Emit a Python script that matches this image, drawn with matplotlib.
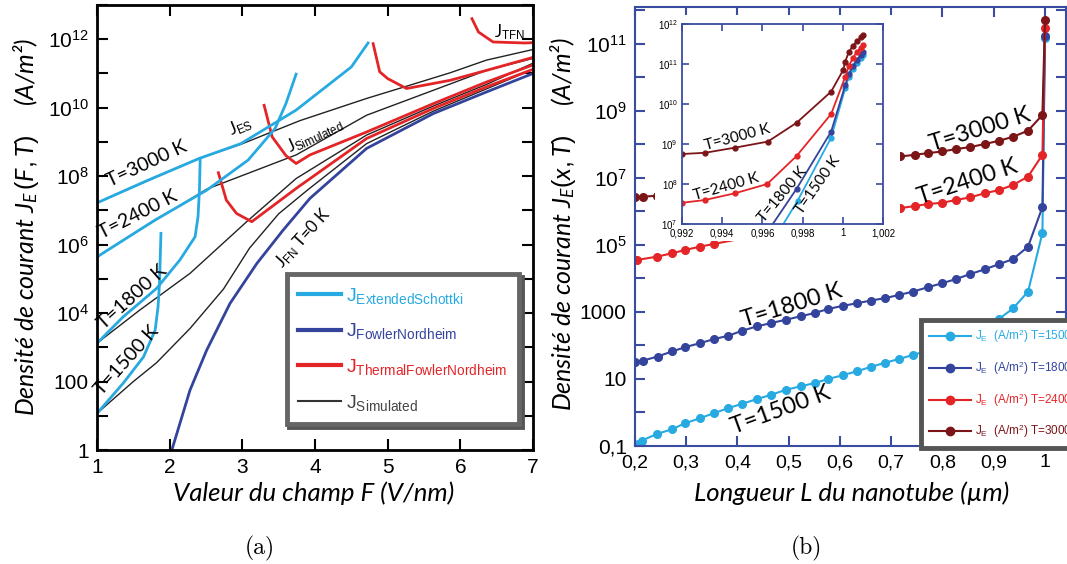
import matplotlib
matplotlib.use('Agg')
import matplotlib.pyplot as plt
from matplotlib.ticker import FixedLocator, FixedFormatter, NullLocator
from matplotlib.lines import Line2D
from matplotlib.patches import Rectangle
import numpy as np

plt.rcParams['font.family'] = ['Liberation Sans', 'DejaVu Sans']
plt.rcParams['mathtext.fontset'] = 'custom'
plt.rcParams['mathtext.rm'] = 'Liberation Sans'
plt.rcParams['mathtext.it'] = 'Lato:italic'
plt.rcParams['mathtext.bf'] = 'Liberation Sans:bold'

LBLUE = '#27aae1'
DBLUE = '#34449c'
RED = '#e42528'
DRED = '#7b1518'
AXBLUE = '#3a4ca0'

# ---------------- (a) J(F) : log10 of current density vs field (V/nm)
F_es3000 = [1, 1.70, 2.41, 2.98, 3.74, 4.50, 4.73]
lJ_es3000 = [7.22, 7.88, 8.52, 8.95, 9.93, 11.19, 11.89]
F_es2400 = [1, 1.80, 2.51, 3.08, 3.45, 3.60, 3.74]
lJ_es2400 = [5.64, 6.72, 7.59, 8.47, 9.39, 10.12, 10.98]
F_es1800 = [1, 1.36, 1.82, 2.14, 2.35, 2.39, 2.41, 2.42]
lJ_es1800 = [3.12, 3.89, 4.72, 5.55, 6.23, 6.81, 7.6, 8.52]
F_es1500 = [1, 1.36, 1.64, 1.80, 1.84, 1.86, 1.88]
lJ_es1500 = [1.07, 1.95, 2.72, 3.50, 4.18, 4.87, 6.33]

F_sim3000 = [1, 2.41, 2.98, 3.79, 4.71, 5.31, 5.86, 6.36, 7.0]
lJ_sim3000 = [7.22, 8.52, 8.93, 9.62, 10.27, 10.66, 11.02, 11.39, 11.70]
F_sim2400 = [1, 1.51, 2.51, 3.74, 4.71, 5.63, 6.36, 7.0]
lJ_sim2400 = [5.64, 6.33, 7.62, 8.62, 9.78, 10.51, 11.09, 11.44]
F_sim1800 = [1, 1.59, 2.28, 3.06, 3.74, 4.71, 5.63, 6.36, 7.0]
lJ_sim1800 = [3.12, 4.09, 5.16, 6.67, 7.93, 9.2, 10.05, 10.68, 11.3]
F_sim1500 = [1, 1.5, 1.82, 2.28, 2.74, 3.1, 3.5, 3.9, 4.71, 5.63, 6.36, 7.0]
lJ_sim1500 = [1.07, 2.0, 2.55, 3.55, 4.7, 5.9, 6.9, 7.6, 8.95, 9.9, 10.55, 11.12]

F_tfn3000 = [6.16, 6.25, 6.45, 6.89, 7.0]
lJ_tfn3000 = [12.6, 12.21, 11.92, 11.89, 11.9]
F_tfn2400 = [4.80, 4.89, 5.0, 5.26, 5.86, 6.36, 7.0]
lJ_tfn2400 = [11.87, 11.05, 10.85, 10.56, 10.80, 11.09, 11.47]
F_tfn1800 = [3.30, 3.41, 3.60, 3.74, 3.93, 4.71, 5.63, 6.36, 7.0]
lJ_tfn1800 = [10.07, 9.15, 8.6, 8.37, 8.62, 9.29, 10.12, 10.75, 11.25]
F_tfn1500 = [2.67, 2.78, 2.92, 3.13, 3.74, 4.71, 5.63, 6.36, 7.0]
lJ_tfn1500 = [8.10, 7.30, 6.91, 6.67, 7.64, 9.10, 9.98, 10.61, 11.12]

F_fn = [2.03, 2.28, 2.51, 2.83, 3.20, 3.56, 3.93, 4.71, 5.63, 6.36, 7.0]
lJ_fn = [0.0, 1.75, 2.92, 4.28, 5.45, 6.42, 7.35, 8.81, 9.83, 10.46, 11.0]

A_XTICKS = [1, 2, 3, 4, 5, 6, 7]
A_YTICK_EXP = list(range(0, 14))
A_YTICK_LABELS = ['1', '', '100', '', r'$10^{4}$', '', r'$10^{6}$', '', r'$10^{8}$', '',
                  r'$10^{10}$', '', r'$10^{12}$', '']
A_LEGEND = [r'J$_{\mathrm{ExtendedSchottki}}$', r'J$_{\mathrm{FowlerNordheim}}$',
            r'J$_{\mathrm{ThermalFowlerNordheim}}$', r'J$_{\mathrm{Simulated}}$']

# ---------------- (b) J(L) along the nanotube (um)
L_1500 = [0.205, 0.213, 0.243, 0.272, 0.298, 0.327, 0.354, 0.382, 0.409, 0.438, 0.466, 0.495,
          0.523, 0.551, 0.577, 0.605, 0.633, 0.660, 0.687, 0.716, 0.743, 0.772, 0.800, 0.826,
          0.854, 0.882, 0.911, 0.938, 0.967, 0.995, 1.0]
lJ_1500 = [-0.93, -0.84, -0.64, -0.50, -0.32, -0.17, -0.02, 0.13, 0.26, 0.40, 0.53, 0.68,
           0.78, 0.88, 1.00, 1.11, 1.23, 1.36, 1.48, 1.60, 1.72, 1.85, 1.98, 2.12,
           2.30, 2.52, 2.80, 3.11, 3.61, 5.36, 11.17]
L_1800 = [0.2, 0.216, 0.244, 0.272, 0.298, 0.327, 0.354, 0.382, 0.409, 0.438, 0.466, 0.495,
          0.523, 0.551, 0.577, 0.605, 0.633, 0.660, 0.687, 0.716, 0.743, 0.772, 0.800, 0.826,
          0.854, 0.882, 0.911, 0.938, 0.967, 0.995, 1.0]
lJ_1800 = [1.50, 1.55, 1.67, 1.82, 1.95, 2.07, 2.19, 2.29, 2.44, 2.57, 2.67, 2.77,
           2.87, 2.97, 3.09, 3.18, 3.26, 3.34, 3.41, 3.51, 3.61, 3.74, 3.86, 3.98,
           4.13, 4.27, 4.43, 4.58, 4.95, 6.13, 11.24]
L_2400 = [0.203, 0.243, 0.272, 0.298, 0.327, 0.354, 0.718, 0.746, 0.772, 0.800, 0.826,
          0.854, 0.882, 0.911, 0.938, 0.967, 0.995, 1.0]
lJ_2400 = [4.55, 4.65, 4.75, 4.85, 4.95, 5.03, 6.10, 6.16, 6.22, 6.26, 6.34,
           6.42, 6.54, 6.64, 6.79, 7.04, 7.69, 11.47]
L_3000 = [0.2, 0.216, 0.243, 0.718, 0.746, 0.772, 0.800, 0.826, 0.854, 0.882, 0.911,
          0.938, 0.967, 0.995, 1.0]
lJ_3000 = [6.42, 6.44, 6.47, 7.64, 7.69, 7.74, 7.79, 7.86, 7.92, 8.01, 8.11,
           8.23, 8.41, 8.88, 11.72]

B_XTICKS = [0.2, 0.3, 0.4, 0.5, 0.6, 0.7, 0.8, 0.9, 1.0]
B_XTICK_LABELS = ['0,2', '0,3', '0,4', '0,5', '0,6', '0,7', '0,8', '0,9', '1']
B_YTICK_EXP = list(range(-1, 13))
B_YTICK_LABELS = ['0,1', '', '10', '', '1000', '', r'$10^{5}$', '', r'$10^{7}$', '',
                  r'$10^{9}$', '', r'$10^{11}$', '']
B_LEGEND = [r'J$_{\mathrm{E}}$  (A/m$^{2}$) T=1500K', r'J$_{\mathrm{E}}$  (A/m$^{2}$) T=1800K',
            r'J$_{\mathrm{E}}$  (A/m$^{2}$) T=2400K', r'J$_{\mathrm{E}}$  (A/m$^{2}$) T=3000K']

# inset (zoom near the tip)
Li_3000 = [0.992, 0.99314, 0.99465, 0.99627, 0.9977, 0.99942, 1.00002, 1.00012, 1.0003,
           1.0005, 1.0007, 1.0009, 1.001]
lJi_3000 = [8.75, 8.78, 8.91, 9.06, 9.53, 10.31, 10.85, 11.06, 11.3, 11.45, 11.57, 11.67, 11.72]
Li_2400 = [0.992, 0.99314, 0.99465, 0.99624, 0.9977, 0.99942, 1.00012, 1.0003, 1.0005,
           1.0007, 1.0009, 1.001]
lJi_2400 = [7.53, 7.6, 7.77, 8.0, 8.70, 9.75, 10.68, 10.95, 11.15, 11.3, 11.41, 11.47]
Li_1800 = [0.99645, 0.9977, 0.99942, 1.00012, 1.0003, 1.0005, 1.0007, 1.0009, 1.001]
lJi_1800 = [6.95, 7.88, 9.31, 10.47, 10.75, 10.95, 11.1, 11.23, 11.31]
Li_1500 = [0.99698, 0.99775, 0.99942, 1.00012, 1.0003, 1.0005, 1.0007, 1.0009, 1.001]
lJi_1500 = [6.95, 7.58, 9.16, 10.39, 10.68, 10.88, 11.03, 11.15, 11.22]

I_XTICKS = [0.992, 0.994, 0.996, 0.998, 1.0, 1.002]
I_XTICK_LABELS = ['0,992', '0,994', '0,996', '0,998', '1', '1,002']
I_YTICK_EXP = [7, 8, 9, 10, 11, 12]
I_YTICK_LABELS = [r'$10^{7}$', r'$10^{8}$', r'$10^{9}$', r'$10^{10}$', r'$10^{11}$', r'$10^{12}$']

W, H = 1067, 564
fig = plt.figure(figsize=(W / 100, H / 100), dpi=100)


def fpos(x, y):
    return x / W, 1 - y / H


# ================= panel (a)
axA = fig.add_axes([97 / W, 1 - 450 / H, 436 / W, 445 / H])
axA.set_yscale('log')
axA.set_xlim(1, 7)
axA.set_ylim(1, 1e13)

for F, lJ in [(F_sim3000, lJ_sim3000), (F_sim2400, lJ_sim2400),
              (F_sim1800, lJ_sim1800), (F_sim1500, lJ_sim1500)]:
    axA.plot(F, 10.0 ** np.array(lJ), color='#222222', lw=1.0)
for F, lJ in [(F_tfn3000, lJ_tfn3000), (F_tfn2400, lJ_tfn2400),
              (F_tfn1800, lJ_tfn1800), (F_tfn1500, lJ_tfn1500)]:
    axA.plot(F, 10.0 ** np.array(lJ), color=RED, lw=2.0)
axA.plot(F_fn, 10.0 ** np.array(lJ_fn), color=DBLUE, lw=2.0)
for F, lJ in [(F_es3000, lJ_es3000), (F_es2400, lJ_es2400),
              (F_es1800, lJ_es1800), (F_es1500, lJ_es1500)]:
    axA.plot(F, 10.0 ** np.array(lJ), color=LBLUE, lw=2.0)

axA.xaxis.set_major_locator(FixedLocator(A_XTICKS))
axA.yaxis.set_major_locator(FixedLocator(10.0 ** np.array(A_YTICK_EXP)))
axA.yaxis.set_major_formatter(FixedFormatter(A_YTICK_LABELS))
axA.yaxis.set_minor_locator(NullLocator())
axA.tick_params(which='major', direction='in', length=8, width=1.5, top=True, right=True,
                labelsize=15, pad=6)
for s in axA.spines.values():
    s.set_linewidth(2)

hA = [Line2D([], [], color=LBLUE, lw=3), Line2D([], [], color=DBLUE, lw=3),
      Line2D([], [], color=RED, lw=3), Line2D([], [], color='#333333', lw=1.5)]
legA = axA.legend(hA, A_LEGEND, loc='lower right', bbox_to_anchor=(0.99, 0.036),
                  fontsize=14, handlelength=2.2, labelspacing=0.8, borderpad=0.6,
                  handletextpad=0.25, fancybox=False, edgecolor='#666666', framealpha=1,
                  shadow={'color': '#555555', 'alpha': 1.0})
legA.get_frame().set_linewidth(3.5)
for t, c in zip(legA.get_texts(), [LBLUE, DBLUE, RED, '#444444']):
    t.set_color(c)

lab = dict(fontfamily='Lato', ha='center', va='center', rotation_mode='anchor')
for txt, x, y, a in [('T=3000 K', 147, 164, 25), ('T=2400 K', 138, 215, 27),
                     ('T=1800 K', 132, 297, 42), ('T=1500 K', 127, 360, 48)]:
    fig.text(*fpos(x, y), txt, fontsize=14, rotation=a, **lab)
fig.text(*fpos(241, 126), r'J$_{\mathrm{ES}}$', fontsize=12, rotation=22, **lab)
fig.text(*fpos(315, 135), r'J$_{\mathrm{Simulated}}$', fontsize=12, rotation=25, **lab)
fig.text(*fpos(303, 238), r'J$_{\mathrm{FN}}$ T=0 K', fontsize=12, rotation=48, **lab)
fig.text(*fpos(509, 32), r'J$_{\mathrm{TFN}}$', fontsize=12, **lab)

fig.text(*fpos(26, 227), 'Densité de courant $J_E\\,(F,T)$     (A/m²)', fontsize=18,
         fontfamily='Lato', style='italic', rotation=90, ha='center', va='center')
fig.text(*fpos(314, 493), 'Valeur du champ F (V/nm)', fontsize=18.5, fontfamily='Lato',
         style='italic', ha='center', va='center')
fig.text(*fpos(260, 548), '(a)', fontsize=17, fontfamily='cmr10', ha='center', va='center')

# ================= panel (b)
axB = fig.add_axes([635 / W, 1 - 446 / H, 431 / W, 439 / H])
axB.set_yscale('log')
axB.set_xlim(0.2, 1.041)
axB.set_ylim(0.1, 10 ** 12.1)
for L, lJ, c in [(L_1500, lJ_1500, LBLUE), (L_1800, lJ_1800, DBLUE),
                 (L_2400, lJ_2400, RED), (L_3000, lJ_3000, DRED)]:
    axB.plot(L, 10.0 ** np.array(lJ), color=c, lw=1.5, marker='o', ms=5.5)

axB.xaxis.set_major_locator(FixedLocator(B_XTICKS))
axB.xaxis.set_major_formatter(FixedFormatter(B_XTICK_LABELS))
axB.yaxis.set_major_locator(FixedLocator(10.0 ** np.array(B_YTICK_EXP)))
axB.yaxis.set_major_formatter(FixedFormatter(B_YTICK_LABELS))
axB.yaxis.set_minor_locator(NullLocator())
axB.tick_params(which='major', direction='in', length=7, width=1.5, color=AXBLUE,
                top=True, right=True, labelsize=15, pad=6)
axB.tick_params(axis='x', labelsize=14)
for s in axB.spines.values():
    s.set_linewidth(1.5)
    s.set_color(AXBLUE)

hB = [Line2D([], [], color=c, lw=1.5, marker='o', ms=6) for c in [LBLUE, DBLUE, RED, DRED]]
legB = axB.legend(hB, B_LEGEND, loc='upper left', bbox_to_anchor=(0.65, 0.3),
                  fontsize=8.5, handlelength=3.6, labelspacing=1.2, borderpad=0.65,
                  handletextpad=0.3, fancybox=False, edgecolor='#555555', framealpha=1)
legB.get_frame().set_linewidth(3.5)
for t, c in zip(legB.get_texts(), [LBLUE, DBLUE, RED, DRED]):
    t.set_color(c)

for txt, x, y, a in [('T=3000 K', 980, 130, 17), ('T=2400 K', 967, 182, 18),
                     ('T=1800 K', 792, 306, 17), ('T=1500 K', 781, 410, 20)]:
    fig.text(*fpos(x, y), txt, fontsize=17, rotation=a, **lab)

fig.text(*fpos(563, 224), 'Densité de courant $J_E(x,T)$     (A/m²)', fontsize=18,
         fontfamily='Lato', style='italic', rotation=90, ha='center', va='center')
fig.text(*fpos(852, 493), 'Longueur L du nanotube (µm)', fontsize=18.5, fontfamily='Lato',
         style='italic', ha='center', va='center')
fig.text(*fpos(806, 548), '(b)', fontsize=17, fontfamily='cmr10', ha='center', va='center')

# white backing of the pasted inset
x0, y0 = fpos(655, 241)
fig.add_artist(Rectangle((x0, y0), 245 / W, 226 / H, transform=fig.transFigure,
                         facecolor='white', edgecolor='none', zorder=1))

# ================= inset
axI = fig.add_axes([682 / W, 1 - 224 / H, 201 / W, 200 / H])
axI.set_zorder(2)
axI.set_yscale('log')
axI.set_xlim(0.992, 1.002)
axI.set_ylim(1e7, 1e12)
for L, lJ, c, skip in [(Li_1500, lJi_1500, LBLUE, 1), (Li_1800, lJi_1800, DBLUE, 1),
                       (Li_2400, lJi_2400, RED, 0), (Li_3000, lJi_3000, DRED, 0)]:
    axI.plot(L, 10.0 ** np.array(lJ), color=c, lw=1.3, marker='o', ms=3.5,
             markevery=slice(skip, None))
axI.xaxis.set_major_locator(FixedLocator(I_XTICKS))
axI.xaxis.set_major_formatter(FixedFormatter(I_XTICK_LABELS))
axI.yaxis.set_major_locator(FixedLocator(10.0 ** np.array(I_YTICK_EXP)))
axI.yaxis.set_major_formatter(FixedFormatter(I_YTICK_LABELS))
axI.yaxis.set_minor_locator(NullLocator())
axI.tick_params(which='major', direction='in', length=5, width=1.2, color=AXBLUE,
                top=True, right=True, labelsize=7, pad=3)
for s in axI.spines.values():
    s.set_linewidth(1.3)
    s.set_color(AXBLUE)

for txt, x, y, a in [('T=3000 K', 737, 137, 15), ('T=2400 K', 726, 187, 16),
                     ('T=1800 K', 783, 195, 50), ('T=1500 K', 818, 185, 55)]:
    t = fig.text(*fpos(x, y), txt, fontsize=11, rotation=a, **lab)
    t.set_zorder(3)

fig.savefig('out.png', dpi=100)
